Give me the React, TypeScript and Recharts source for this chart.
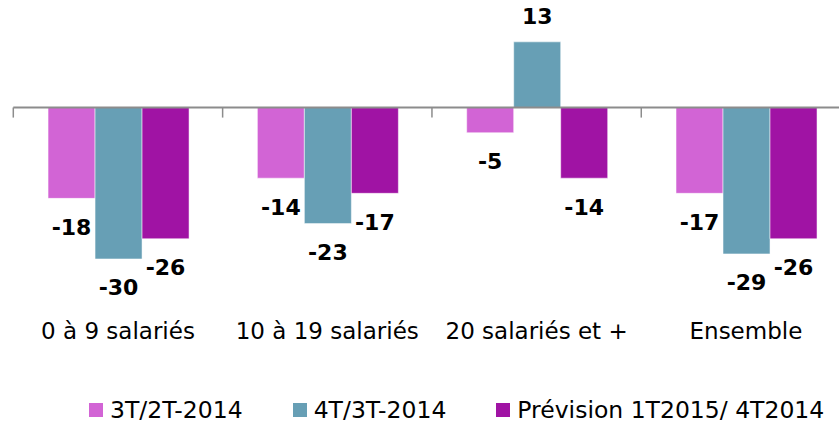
import {
  ComposedChart,
  Bar,
  XAxis,
  YAxis,
  Legend,
  LabelList,
  ReferenceLine,
} from "recharts";

const categories = [
  "0 à 9 salariés",
  "10 à 19 salariés",
  "20 salariés et +",
  "Ensemble",
];
const serie3T2T = [-18, -14, -5, -17];
const serie4T3T = [-30, -23, 13, -29];
const seriePrevision = [-26, -17, -14, -26];
const seriesNames = ["3T/2T-2014", "4T/3T-2014", "Prévision 1T2015/ 4T2014"];
const seriesColors = ["#d264d5", "#679fb5", "#a013a4"];

const FONT = "'DejaVu Sans', Verdana, sans-serif";
const AXIS_GRAY = "#8c8c8c";

const data = categories.map((name, i) => ({
  name,
  s1: serie3T2T[i],
  s2: serie4T3T[i],
  s3: seriePrevision[i],
}));

function ValueLabel(props: any) {
  const { x, y, width, height, value } = props;
  const top = Math.min(y, y + height);
  const bottom = Math.max(y, y + height);
  const cy = value < 0 ? bottom + 29 : top - 25;
  return (
    <text
      x={x + width / 2}
      y={cy}
      textAnchor="middle"
      dominantBaseline="central"
      fontFamily={FONT}
      fontWeight="bold"
      fontSize={22}
      fill="#000"
    >
      {value}
    </text>
  );
}

function LegendContent() {
  return (
    <div style={{ display: "flex", alignItems: "center", gap: 50, fontFamily: FONT, fontSize: 23.5, lineHeight: "28px", whiteSpace: "nowrap" }}>
      {seriesNames.map((n, i) => (
        <div key={n} style={{ display: "flex", alignItems: "center" }}>
          <span style={{ display: "inline-block", width: 14, height: 14, background: seriesColors[i], marginRight: 7 }} />
          <span>{n}</span>
        </div>
      ))}
    </div>
  );
}

export default function App() {
  const keys = ["s1", "s2", "s3"];
  return (
    <div style={{ position: "absolute", left: 0, top: 0, width: 839, height: 424, overflow: "hidden", background: "#fff" }}>
      <ComposedChart
        width={870}
        height={424}
        data={data}
        margin={{ top: 6.5, right: 19.4, left: 13.3, bottom: 79.5 }}
        barCategoryGap="16.6%"
        barGap={0}
      >
        <XAxis
          dataKey="name"
          axisLine={false}
          tickLine={false}
          height={30}
          interval={0}
          tick={{ fill: "#000", fontSize: 23, fontFamily: FONT }}
        />
        <YAxis type="number" domain={[-41, 20]} hide allowDataOverflow />
        <ReferenceLine y={0} stroke={AXIS_GRAY} strokeWidth={2} />
        {categories.map((c) => (
          <ReferenceLine
            key={c}
            position="start"
            segment={[
              { x: c, y: 0 },
              { x: c, y: -2 },
            ]}
            stroke={AXIS_GRAY}
            strokeWidth={1.5}
          />
        ))}
        <ReferenceLine
          position="end"
          segment={[
            { x: categories[categories.length - 1], y: 0 },
            { x: categories[categories.length - 1], y: -2 },
          ]}
          stroke={AXIS_GRAY}
          strokeWidth={1.5}
        />
        {keys.map((k, i) => (
          <Bar
            key={k}
            dataKey={k}
            name={seriesNames[i]}
            fill={seriesColors[i]}
            stroke="rgba(255,255,255,0.5)"
            strokeWidth={1}
            isAnimationActive={false}
          >
            <LabelList dataKey={k} content={<ValueLabel />} />
          </Bar>
        ))}
        <Legend
          layout="horizontal"
          verticalAlign="middle"
          content={<LegendContent />}
          wrapperStyle={{ left: 89, top: 396, width: "auto" }}
        />
      </ComposedChart>
    </div>
  );
}
